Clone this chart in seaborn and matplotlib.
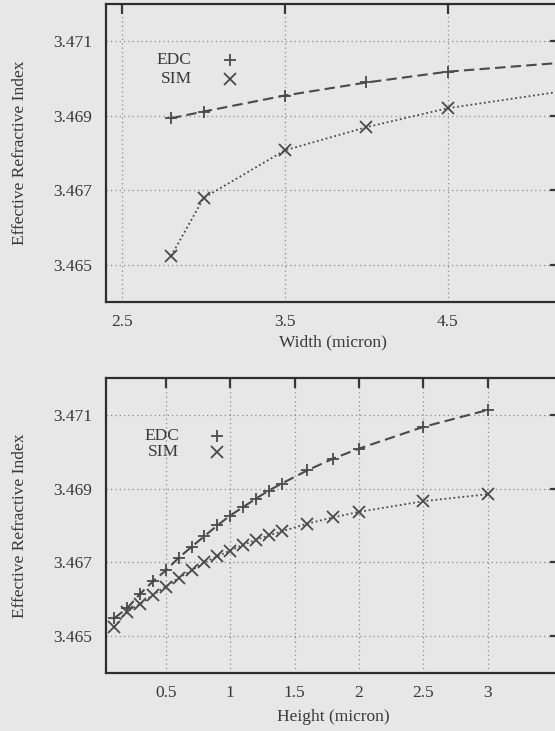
import numpy as np
import pandas as pd
import matplotlib
matplotlib.use("Agg")
import matplotlib.pyplot as plt
import seaborn as sns

# Width sweep (top panel)
width_um = [2.8, 3.0, 3.5, 4.0, 4.5, 5.2]
width_edc = [3.46893, 3.46911, 3.46954, 3.46989, 3.47018, 3.47042]
width_sim = [3.46523, 3.46679, 3.46807, 3.46869, 3.46920, 3.46965]

# Height sweep (bottom panel)
height_um = [0.1, 0.2, 0.3, 0.4, 0.5, 0.6, 0.7, 0.8, 0.9, 1.0,
             1.1, 1.2, 1.3, 1.4, 1.6, 1.8, 2.0, 2.5, 3.0]
height_edc = [3.46548, 3.46575, 3.46614, 3.46648, 3.46678, 3.46712, 3.46742,
              3.46771, 3.46800, 3.46827, 3.46850, 3.46873, 3.46895, 3.46914,
              3.46950, 3.46982, 3.47009, 3.47068, 3.47114]
height_sim = [3.46525, 3.46566, 3.46586, 3.46611, 3.46634, 3.46657, 3.46678,
              3.46700, 3.46716, 3.46732, 3.46747, 3.46761, 3.46773, 3.46784,
              3.46805, 3.46822, 3.46837, 3.46866, 3.46885]

y_ticks = [3.465, 3.467, 3.469, 3.471]
width_ticks = [2.5, 3.5, 4.5]
height_ticks = [0.5, 1, 1.5, 2, 2.5, 3]
height_tick_labels = ["0.5", "1", "1.5", "2", "2.5", "3"]

BG = "#e7e7e7"
INK = "#383838"
LINE = "#4a4a4a"

sns.set_theme(style="white")
plt.rcParams["font.family"] = ["Liberation Serif", "DejaVu Serif"]
plt.rcParams["text.color"] = INK
plt.rcParams["axes.labelcolor"] = INK
plt.rcParams["xtick.color"] = INK
plt.rcParams["ytick.color"] = INK

fig = plt.figure(figsize=(5.55, 7.31), dpi=100, facecolor=BG)
ax_top = fig.add_axes([0.191, 0.587, 0.818, 0.4077])
ax_bot = fig.add_axes([0.191, 0.0798, 0.818, 0.4027])


def draw_panel(ax, x, edc, sim, xlim, xticks, xticklabels, xlabel,
               xlabelpad, key_pos):
    df = pd.DataFrame({"x": x, "EDC": edc, "SIM": sim})
    sns.lineplot(data=df, x="x", y="EDC", ax=ax, color=LINE, lw=1.5,
                 dashes=False, linestyle=(0, (5, 2.5)), marker="+",
                 markersize=8, markeredgewidth=1.3, markeredgecolor=LINE)
    sns.lineplot(data=df, x="x", y="SIM", ax=ax, color=LINE, lw=1.3,
                 linestyle=(0, (1, 1.5)), marker="x", markersize=8,
                 markeredgewidth=1.3, markeredgecolor=LINE)
    ax.set_facecolor(BG)
    ax.set_xticks(xticks)
    ax.set_xticklabels(xticklabels)
    ax.set_yticks(y_ticks)
    ax.set_yticklabels([f"{v:.3f}" for v in y_ticks])
    ax.set_xlim(*xlim)
    ax.set_ylim(3.464, 3.472)
    ax.grid(True, color="#8a8a8a", linestyle=(0, (1, 2.5)), lw=0.9)
    ax.tick_params(direction="in", length=7, width=1.6, top=True, right=True,
                   labelsize=12.5, pad=9, colors=INK)
    ax.tick_params(axis="y", pad=10)
    for s in ax.spines.values():
        s.set_color("#2e2e2e")
        s.set_linewidth(1.6)
    ax.set_xlabel(xlabel, fontsize=12.5, labelpad=xlabelpad)
    ax.set_ylabel("Effective Refractive Index", fontsize=12.5, labelpad=18)
    # key: labels right-justified with the point symbol to their right
    tx, mx, y1, y2 = key_pos
    ax.text(tx, y1, "EDC", transform=ax.transAxes, ha="right", va="center",
            fontsize=12.5, color=INK)
    ax.text(tx, y2, "SIM", transform=ax.transAxes, ha="right", va="center",
            fontsize=12.5, color=INK)
    ax.plot([mx], [y1], transform=ax.transAxes, marker="+", ms=8, mew=1.3,
            color=LINE, ls="none")
    ax.plot([mx], [y2], transform=ax.transAxes, marker="x", ms=8, mew=1.3,
            color=LINE, ls="none")


draw_panel(ax_top, width_um, width_edc, width_sim, (2.4, 5.19),
           width_ticks, [str(t) for t in width_ticks], "Width (micron)", 3,
           (0.189, 0.2725, 0.812, 0.749))
draw_panel(ax_bot, height_um, height_edc, height_sim, (0.036, 3.56),
           height_ticks, height_tick_labels, "Height (micron)", 6,
           (0.161, 0.245, 0.804, 0.749))

fig.savefig("out.png", dpi=100, facecolor=BG)
